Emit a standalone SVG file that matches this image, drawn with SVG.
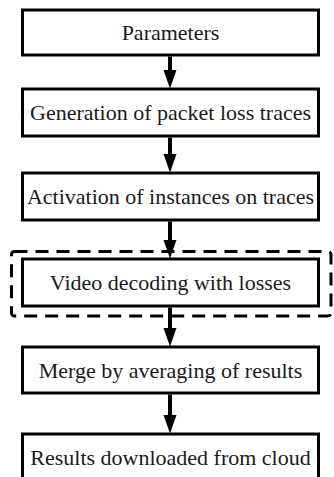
<svg xmlns="http://www.w3.org/2000/svg" width="334" height="477" viewBox="0 0 334 477">
<style>
.box{fill:#fff;stroke:#000;stroke-width:3}
.lbl{font-family:'Liberation Serif','Times New Roman',serif;font-size:22px;fill:#1a1a1a;text-anchor:middle}
.edge{stroke:#000;stroke-width:4;fill:none}
.group{fill:none;stroke:#000;stroke-width:3;stroke-dasharray:13 8}
</style>
<rect id="group-decoding" class="group" x="11.5" y="251.5" width="319.5" height="64.5" rx="3"/>
<g id="n1"><rect class="box" x="22.5" y="10" width="296" height="45"/><text class="lbl" x="170.5" y="40">Parameters</text></g>
<g id="n2"><rect class="box" x="22.5" y="89" width="296" height="47"/><text class="lbl" x="170.5" y="120">Generation of packet loss traces</text></g>
<g id="n3"><rect class="box" x="22.5" y="173" width="296" height="47"/><text class="lbl" x="170.5" y="204">Activation of instances on traces</text></g>
<g id="n4"><rect class="box" x="22.5" y="259" width="296" height="47"/><text class="lbl" x="170.5" y="290">Video decoding with losses</text></g>
<g id="n5"><rect class="box" x="22.5" y="347" width="296" height="46"/><text class="lbl" x="170.5" y="377.5">Merge by averaging of results</text></g>
<g id="n6"><rect class="box" x="22.5" y="434" width="296" height="47"/><text class="lbl" x="170.5" y="465">Results downloaded from cloud</text></g>
<g id="connectors">
<path class="edge" d="M170,56.5 V72"/><path d="M163.5,70 L176.5,70 L170,88.5 z"/>
<path class="edge" d="M170,137.5 V156"/><path d="M163.5,154 L176.5,154 L170,172.5 z"/>
<path class="edge" d="M170,221.5 V242"/><path d="M163.5,240 L176.5,240 L170,258.5 z"/>
<path class="edge" d="M170,307.5 V330"/><path d="M163.5,328 L176.5,328 L170,346.5 z"/>
<path class="edge" d="M170,394.5 V417"/><path d="M163.5,415 L176.5,415 L170,433.5 z"/>
</g>
</svg>
